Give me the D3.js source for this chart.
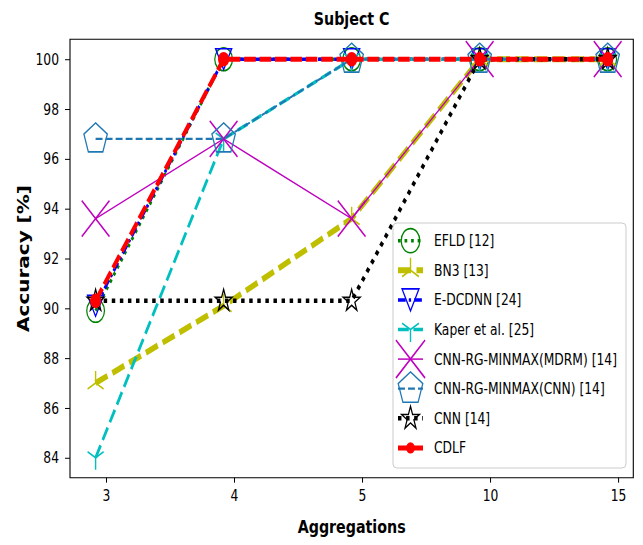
<!DOCTYPE html>
<html>
<head>
<meta charset="utf-8">
<script src="https://cdn.jsdelivr.net/npm/d3@7"></script>
<style>
  body { margin: 0; background: #fff; }
  svg { display: block; }
  text { font-family: "DejaVu Sans", sans-serif; fill: #000; }
</style>
</head>
<body>
<div id="chart"></div>
<script>
// chart values
const aggregations = ['3', '4', '5', '10', '15'];
const yTicks = [84, 86, 88, 90, 92, 94, 96, 98, 100];
const efld = [89.9, 100, 100, 100, 100];
const bn3 = [87.0, 90.1, 93.6, 100, 100];
const edcdnn = [90.1, 100, 100, 100, 100];
const kaper = [84.0, 96.8, 100, 100, 100];
const mdrm = [93.6, 96.8, 93.6, 100, 100];
const minmaxCnn = [96.8, 96.8, 100, 100, 100];
const cnn = [90.3, 90.3, 90.3, 100, 100];
const cdlf = [90.3, 100, 100, 100, 100];

const series = [
  { name: 'EFLD [12]', values: efld, color: '#008000', width: 3.5, dash: '3.5,5', marker: 'circle', size: 11.5, fill: 'none' },
  { name: 'BN3 [13]', values: bn3, color: '#bfbf00', width: 6, dash: '17,7', marker: 'triUp', size: 12 },
  { name: 'E-DCDNN [24]', values: edcdnn, color: '#0000ff', width: 3.5, dash: '10,4,3,4', marker: 'triangleDown', size: 10.5, fill: 'none' },
  { name: 'Kaper et al. [25]', values: kaper, color: '#00bfbf', width: 3.5, dash: '14,6', marker: 'triDown', size: 12 },
  { name: 'CNN-RG-MINMAX(MDRM) [14]', values: mdrm, color: '#bf00bf', width: 1.5, dash: null, marker: 'x', size: 18 },
  { name: 'CNN-RG-MINMAX(CNN) [14]', values: minmaxCnn, color: '#1f77b4', width: 2.2, dash: '9,4', marker: 'pentagon', size: 16, fill: 'none' },
  { name: 'CNN [14]', values: cnn, color: '#000000', width: 4.5, dash: '4.5,6', marker: 'star', size: 11.5, fill: 'none' },
  { name: 'CDLF', values: cdlf, color: '#ff0000', width: 5, dash: '15,5', marker: 'dot', size: 6.5, fill: '#ff0000' }
];

// the figure looks horizontally squeezed, so draw wide and squeeze the viewBox
const W = 643, H = 545, K = 0.77;
const VW = W / K;

const svg = d3.select('#chart')
  .append('svg')
  .attr('width', W)
  .attr('height', H)
  .attr('viewBox', [0, 0, VW, H])
  .attr('preserveAspectRatio', 'none');

const axLeft = 70 / K, axRight = 633.3 / K, axTop = 39.3, axBottom = 477.7;

const x = d3.scaleLinear().domain([-0.2, 4.2]).range([axLeft, axRight]);
const y = d3.scaleLinear().domain([83.2, 100.8]).range([axBottom, axTop]);
const tickShift = 0.082; // the category ticks sit a bit right of the points

// axes
const xAxis = d3.axisBottom(x)
  .tickValues(aggregations.map((d, i) => i + tickShift))
  .tickFormat((d, i) => aggregations[i])
  .tickSize(5)
  .tickPadding(4);
const yAxis = d3.axisLeft(y)
  .tickValues(yTicks)
  .tickSize(5 / K)
  .tickPadding(6 / K);

const gx = svg.append('g').attr('transform', `translate(0,${axBottom})`).call(xAxis);
const gy = svg.append('g').attr('transform', `translate(${axLeft},0)`).call(yAxis);
[gx, gy].forEach(g => {
  g.select('.domain').remove();
  g.selectAll('line').attr('stroke', '#000').attr('vector-effect', 'non-scaling-stroke');
  g.selectAll('text').style('font-size', '16px').style('font-family', '"DejaVu Sans", sans-serif').attr('fill', '#111');
});
gx.selectAll('text').attr('dy', '0.9em');

// markers
function markerPath(type, s) {
  if (type === 'triUp') {
    return `M0,0L0,${-s}M0,0L${-0.866 * s},${0.5 * s}M0,0L${0.866 * s},${0.5 * s}`;
  }
  if (type === 'triDown') {
    return `M0,0L0,${s}M0,0L${-0.866 * s},${-0.5 * s}M0,0L${0.866 * s},${-0.5 * s}`;
  }
  if (type === 'triangleDown') {
    return `M0,${s}L${-s},${-s}L${s},${-s}Z`;
  }
  if (type === 'x') {
    return `M${-s},${-s}L${s},${s}M${-s},${s}L${s},${-s}`;
  }
  if (type === 'pentagon') {
    const pts = d3.range(5).map(k => {
      const a = -Math.PI / 2 + k * 2 * Math.PI / 5;
      return [s * Math.cos(a), s * Math.sin(a)];
    });
    return 'M' + pts.join('L') + 'Z';
  }
  if (type === 'star') {
    const pts = d3.range(10).map(k => {
      const a = -Math.PI / 2 + k * Math.PI / 5;
      const r = k % 2 ? s * 0.381966 : s;
      return [r * Math.cos(a), r * Math.sin(a)];
    });
    return 'M' + pts.join('L') + 'Z';
  }
  // circles
  return d3.arc()({ innerRadius: 0, outerRadius: s, startAngle: 0, endAngle: 2 * Math.PI });
}

function drawMarker(g, s, cx, cy, scale) {
  const spoke = s.marker === 'x' || s.marker === 'triUp' || s.marker === 'triDown';
  g.append('path')
    .attr('d', markerPath(s.marker, s.size * scale))
    .attr('transform', `translate(${cx},${cy})`)
    .attr('fill', s.fill || 'none')
    .attr('stroke', s.color)
    .attr('stroke-width', spoke ? 1.8 : 1.6);
}

const line = d3.line().x((d, i) => x(i)).y(d => y(d));
const plot = svg.append('g');

series.forEach(s => {
  const g = plot.append('g');
  g.append('path')
    .attr('d', line(s.values))
    .attr('fill', 'none')
    .attr('stroke', s.color)
    .attr('stroke-width', s.width)
    .attr('stroke-dasharray', s.dash)
    .attr('stroke-linejoin', 'round');
  s.values.forEach((v, i) => drawMarker(g, s, x(i), y(v), 1));
});

// frame
svg.append('rect')
  .attr('x', axLeft).attr('y', axTop)
  .attr('width', axRight - axLeft).attr('height', axBottom - axTop)
  .attr('fill', 'none').attr('stroke', '#000')
  .attr('stroke-width', 1.1)
  .attr('vector-effect', 'non-scaling-stroke');

// legend
const lg = svg.append('g');
lg.append('rect')
  .attr('x', 393 / K).attr('y', 223)
  .attr('width', (626 - 393) / K).attr('height', 468 - 223)
  .attr('rx', 4 / K).attr('ry', 4)
  .attr('fill', 'rgba(255,255,255,0.8)')
  .attr('stroke', '#cccccc')
  .attr('vector-effect', 'non-scaling-stroke');

series.forEach((s, i) => {
  const cy = 240.7 + i * 29.6;
  const row = lg.append('g');
  row.append('line')
    .attr('x1', 398 / K).attr('x2', 423 / K)
    .attr('y1', cy).attr('y2', cy)
    .attr('stroke', s.color)
    .attr('stroke-width', s.width)
    .attr('stroke-dasharray', s.dash);
  drawMarker(row, s, 410.5 / K, cy, s.marker === 'dot' ? 0.75 : 1.05);
  row.append('text')
    .attr('x', 434 / K).attr('y', cy)
    .attr('dy', '0.35em')
    .style('font-size', '16px')
    .text(s.name);
});

// titles
svg.append('text')
  .attr('x', (axLeft + axRight) / 2).attr('y', 25)
  .attr('text-anchor', 'middle')
  .style('font-size', '18.5px').style('font-weight', 'bold')
  .text('Subject C');

svg.append('text')
  .attr('x', (axLeft + axRight) / 2).attr('y', 533)
  .attr('text-anchor', 'middle')
  .style('font-size', '18.5px').style('font-weight', 'bold')
  .text('Aggregations');

svg.append('text')
  .attr('transform', `translate(${24 / K},${(axTop + axBottom) / 2}) rotate(-90)`)
  .attr('text-anchor', 'middle')
  .attr('dy', '0.35em')
  .style('font-size', '20px').style('font-weight', 'bold')
  .text('Accuracy [%]');
</script>
</body>
</html>
